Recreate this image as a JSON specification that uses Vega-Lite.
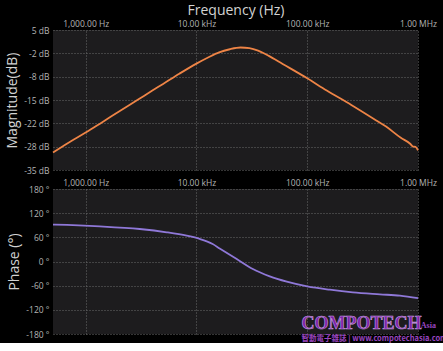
{
  "$schema": "https://vega.github.io/schema/vega-lite/v6.json",
  "background": "#000000",
  "padding": {"left": 5, "top": 3, "right": 5, "bottom": 0},
  "spacing": 3,
  "config": {
    "view": {"fill": "#1d1c1e", "stroke": null},
    "font": "Open Sans",
    "axis": {
      "labelColor": "#b4b4b4",
      "titleColor": "#d2d2d2",
      "labelFontSize": 8.5,
      "titleFontSize": 14,
      "titleFontWeight": "normal",
      "domain": false,
      "ticks": false,
      "gridColor": "#6a6a6a",
      "gridDash": [1, 2],
      "gridWidth": 1,
      "labelFlush": false,
      "labelOverlap": false
    }
  },
  "vconcat": [
    {
      "width": 365,
      "height": 140,
      "data": {"values": [
        {"f": 507, "db": -30.0},
        {"f": 700, "db": -27.2},
        {"f": 1000, "db": -24.3},
        {"f": 1400, "db": -21.4},
        {"f": 2000, "db": -18.3},
        {"f": 3000, "db": -14.8},
        {"f": 4000, "db": -12.3},
        {"f": 5000, "db": -10.4},
        {"f": 7000, "db": -7.5},
        {"f": 10000, "db": -4.6},
        {"f": 13000, "db": -2.7},
        {"f": 16000, "db": -1.4},
        {"f": 20000, "db": -0.5},
        {"f": 25000, "db": 0.0},
        {"f": 30000, "db": -0.2},
        {"f": 36000, "db": -0.9},
        {"f": 45000, "db": -2.4},
        {"f": 60000, "db": -4.7},
        {"f": 100000, "db": -8.8},
        {"f": 150000, "db": -12.3},
        {"f": 250000, "db": -16.4},
        {"f": 400000, "db": -20.4},
        {"f": 515000, "db": -22.6},
        {"f": 700000, "db": -25.8},
        {"f": 850000, "db": -27.5},
        {"f": 900000, "db": -28.3},
        {"f": 950000, "db": -28.4},
        {"f": 1000000, "db": -29.4}
      ]},
      "mark": {"type": "line", "color": "#ee8446", "strokeWidth": 1.8, "interpolate": "monotone"},
      "encoding": {
        "x": {
          "field": "f", "type": "quantitative",
          "scale": {"type": "log", "domain": [507, 1000000], "nice": false},
          "axis": {
            "orient": "top", "title": "Frequency (Hz)",
            "values": [1000, 10000, 100000, 1000000],
            "labelExpr": "datum.value == 1000 ? '1,000.00 Hz' : datum.value == 10000 ? '10.00 kHz' : datum.value == 100000 ? '100.00 kHz' : '1.00 MHz'",
            "labelPadding": 2, "titlePadding": 2, "labelOverlap": false
          }
        },
        "y": {
          "field": "db", "type": "quantitative",
          "scale": {"domain": [-35, 5], "nice": false},
          "axis": {
            "title": "Magnitude(dB)",
            "values": [-35, -28.3333, -21.6667, -15, -8.3333, -1.6667, 5],
            "labelExpr": "round(datum.value) + ' dB'",
            "labelPadding": 4, "titlePadding": 4, "labelOverlap": false
          }
        }
      }
    },
    {
      "width": 365,
      "height": 145,
      "encoding": {
        "x": {
          "field": "f", "type": "quantitative",
          "scale": {"type": "log", "domain": [507, 1000000], "nice": false},
          "axis": {
            "orient": "top", "title": null,
            "values": [1000, 10000, 100000, 1000000],
            "labelExpr": "datum.value == 1000 ? '1,000.00 Hz' : datum.value == 10000 ? '10.00 kHz' : datum.value == 100000 ? '100.00 kHz' : '1.00 MHz'",
            "labelPadding": 2, "labelOverlap": false
          }
        },
        "y": {
          "field": "deg", "type": "quantitative",
          "scale": {"domain": [-180, 180], "nice": false},
          "axis": {
            "title": "Phase (°)",
            "values": [-180, -120, -60, 0, 60, 120, 180],
            "labelExpr": "datum.value + ' °'",
            "labelPadding": 4, "titlePadding": 4, "labelOverlap": false
          }
        }
      },
      "layer": [
        {
          "data": {"values": [
            {"f": 507, "deg": 91.5},
            {"f": 525, "deg": 91.4},
            {"f": 1338, "deg": 87.3},
            {"f": 3076, "deg": 80.7},
            {"f": 5396, "deg": 72.5},
            {"f": 8167, "deg": 64.0},
            {"f": 10700, "deg": 56.0},
            {"f": 14000, "deg": 43.4},
            {"f": 16200, "deg": 32.5},
            {"f": 23100, "deg": 6.2},
            {"f": 32300, "deg": -18.6},
            {"f": 45900, "deg": -36.8},
            {"f": 65400, "deg": -50.0},
            {"f": 100000, "deg": -61.7},
            {"f": 160000, "deg": -70.0},
            {"f": 258000, "deg": -76.6},
            {"f": 453000, "deg": -81.5},
            {"f": 687000, "deg": -84.8},
            {"f": 1000000, "deg": -91.0}
          ]},
          "mark": {"type": "line", "color": "#8f78d8", "strokeWidth": 1.8, "interpolate": "monotone"}
        },
        {
          "data": {"values": [{"f": 89000, "deg": -167, "label": "COMPOTECH"}]},
          "mark": {"type": "text", "font": "Liberation Sans Narrow", "fontWeight": "bold", "fontSize": 18, "align": "left", "baseline": "alphabetic", "color": "#7d22a8", "stroke": "#c9a0e0", "strokeWidth": 0.6, "clip": false},
          "encoding": {"text": {"field": "label"}}
        },
        {
          "data": {"values": [{"f": 1060000, "deg": -166, "label": "Asia"}]},
          "mark": {"type": "text", "font": "Liberation Sans Narrow", "fontWeight": "bold", "fontSize": 8, "align": "left", "baseline": "alphabetic", "color": "#9a45c0", "clip": false},
          "encoding": {"text": {"field": "label"}}
        },
        {
          "data": {"values": [{"f": 89000, "deg": -197, "label": "智動電子雜誌 | www.compotechasia.com"}]},
          "mark": {"type": "text", "font": "Noto Sans CJK TC", "fontWeight": "bold", "fontSize": 7.5, "align": "left", "baseline": "alphabetic", "color": "#9a45c0", "clip": false},
          "encoding": {"text": {"field": "label"}}
        }
      ]
    }
  ]
}
